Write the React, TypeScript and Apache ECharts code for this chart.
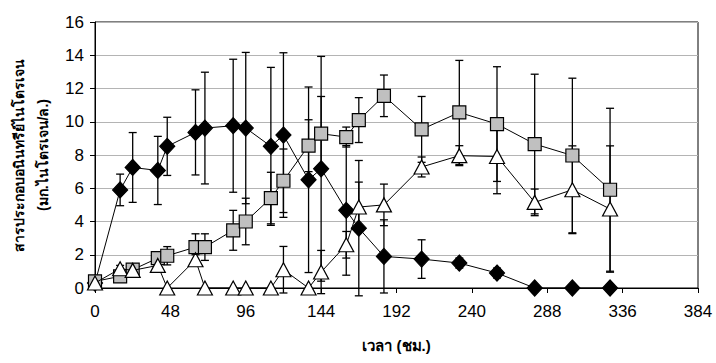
import React, { useEffect, useRef } from "react";
import * as echarts from "echarts";

const hours = [0, 16, 24, 40, 46, 64, 70, 88, 96, 112, 120, 136, 144, 160, 168, 184, 208, 232, 256, 280, 304, 328];

const diamondValues = [0.3, 5.9, 7.25, 7.07, 8.52, 9.36, 9.62, 9.76, 9.62, 8.52, 9.2, 6.51, 7.17, 4.67, 3.6, 1.9, 1.74, 1.5, 0.9, 0, 0, 0];
const diamondErrors = [0, 0.95, 2.1, 2.05, 1.75, 2.56, 3.36, 4.0, 4.55, 4.75, 4.95, 5.58, 6.76, 3.9, 4.07, 2.2, 1.16, 0.3, 0.3, 0, 0, 0];

const squareValues = [0.4, 0.7, 1.1, 1.8, 1.94, 2.46, 2.46, 3.47, 4.0, 5.41, 6.45, 8.56, 9.28, 9.08, 10.1, 11.56, 9.54, 10.56, 9.86, 8.66, 7.97, 5.91];
const squareErrors = [0.1, 0.2, 0.3, 0.3, 0.55, 0.8, 0.8, 1.2, 1.4, 1.55, 1.91, 1.56, 2.24, 0.6, 1.35, 1.25, 1.98, 3.13, 3.45, 4.2, 4.65, 4.9];

const triangleValues = [0.3, 1.16, 1.06, 1.36, 0, 1.7, 0, 0, 0, 0, 1.1, 0, 0.96, 2.6, 4.87, 5.0, 7.28, 7.96, 7.91, 5.15, 5.91, 4.75];
const triangleErrors = [0.1, 0.2, 0.2, 0.2, 0, 0.3, 0, 0, 0, 0, 1.4, 0, 1.3, 0.8, 1.5, 1.25, 0.6, 0.6, 2.24, 0.8, 2.64, 3.8];

const xTicks = { min: 0, max: 384, interval: 48 };
const yTicks = { min: 0, max: 16, interval: 2 };

const yTitleLine1 = "สารประกอบอนินทรีย์ไนโตรเจน";
const yTitleLine2 = "(มก.ไนโตรเจน/ล.)";
const xTitle = "เวลา (ชม.)";

const FONT = "'Liberation Sans', Arial, sans-serif";

function errorSeries(values: number[], errors: number[]) {
  return {
    type: "custom",
    clip: false,
    z: 1,
    silent: true,
    dimensions: ["x", "y", "e"],
    encode: { x: 0, y: 1 },
    data: hours.map((h, i) => [h, values[i], errors[i]]),
    renderItem: (params: any, api: any) => {
      const x = api.value(0);
      const y = api.value(1);
      const e = api.value(2);
      if (!e) return { type: "group", children: [] };
      const top = api.coord([x, y + e]);
      const bot = api.coord([x, y - e]);
      const hw = 4;
      const st = { stroke: "#000", lineWidth: 1.3 };
      return {
        type: "group",
        children: [
          { type: "line", shape: { x1: top[0], y1: top[1], x2: bot[0], y2: bot[1] }, style: st },
          { type: "line", shape: { x1: top[0] - hw, y1: top[1], x2: top[0] + hw, y2: top[1] }, style: st },
          { type: "line", shape: { x1: bot[0] - hw, y1: bot[1], x2: bot[0] + hw, y2: bot[1] }, style: st },
        ],
      };
    },
  };
}

function lineSeries(values: number[], symbol: string, size: any, fill: string, z: number) {
  return {
    type: "line",
    data: hours.map((h, i) => [h, values[i]]),
    symbol,
    symbolSize: size,
    showAllSymbol: true,
    clip: false,
    z,
    lineStyle: { color: "#000", width: 1 },
    itemStyle: { color: fill, borderColor: "#000", borderWidth: 1.2 },
  };
}

export default function App() {
  const ref = useRef<HTMLDivElement>(null);
  useEffect(() => {
    if (!ref.current) return;
    const chart = echarts.init(ref.current, null, { renderer: "svg" });
    chart.setOption({
      animation: false,
      backgroundColor: "#fff",
      textStyle: { fontFamily: FONT },
      grid: { left: 95, right: 18, top: 22, bottom: 75, show: true, borderColor: "#000", borderWidth: 1 },
      xAxis: {
        type: "value",
        min: xTicks.min,
        max: xTicks.max,
        interval: xTicks.interval,
        splitLine: { show: false },
        axisLine: { show: true, onZero: false, lineStyle: { color: "#000", width: 1 } },
        axisTick: { show: true, inside: false, length: 5, lineStyle: { color: "#000" } },
        axisLabel: { color: "#000", fontSize: 17, fontFamily: FONT, margin: 15 },
        name: xTitle,
        nameLocation: "middle",
        nameGap: 50,
        nameTextStyle: { color: "#000", fontSize: 15, fontWeight: "bold", fontFamily: FONT },
      },
      yAxis: {
        type: "value",
        min: yTicks.min,
        max: yTicks.max,
        interval: yTicks.interval,
        splitLine: { show: true, lineStyle: { color: "#b4b4b4", width: 1 } },
        axisLine: { show: true, lineStyle: { color: "#000", width: 1 } },
        axisTick: { show: true, inside: false, length: 5, lineStyle: { color: "#000" } },
        axisLabel: { color: "#000", fontSize: 17, fontFamily: FONT, margin: 11 },
      },
      graphic: [
        {
          type: "text",
          x: 19,
          y: 155,
          rotation: Math.PI / 2,
          style: { text: yTitleLine1, fill: "#000", font: `bold 14px ${FONT}`, align: "center", verticalAlign: "middle" },
        },
        {
          type: "text",
          x: 43,
          y: 155,
          rotation: Math.PI / 2,
          style: { text: yTitleLine2, fill: "#000", font: `bold 14px ${FONT}`, align: "center", verticalAlign: "middle" },
        },
      ],
      series: [
        errorSeries(diamondValues, diamondErrors),
        errorSeries(squareValues, squareErrors),
        errorSeries(triangleValues, triangleErrors),
        lineSeries(diamondValues, "diamond", [15, 16], "#000", 3),
        lineSeries(squareValues, "rect", [13, 13], "#c0c0c0", 4),
        lineSeries(triangleValues, "triangle", [15, 14], "#fff", 5),
      ],
    });
    return () => chart.dispose();
  }, []);
  return <div ref={ref} style={{ position: "absolute", left: 0, top: 0, width: 716, height: 363 }} />;
}
